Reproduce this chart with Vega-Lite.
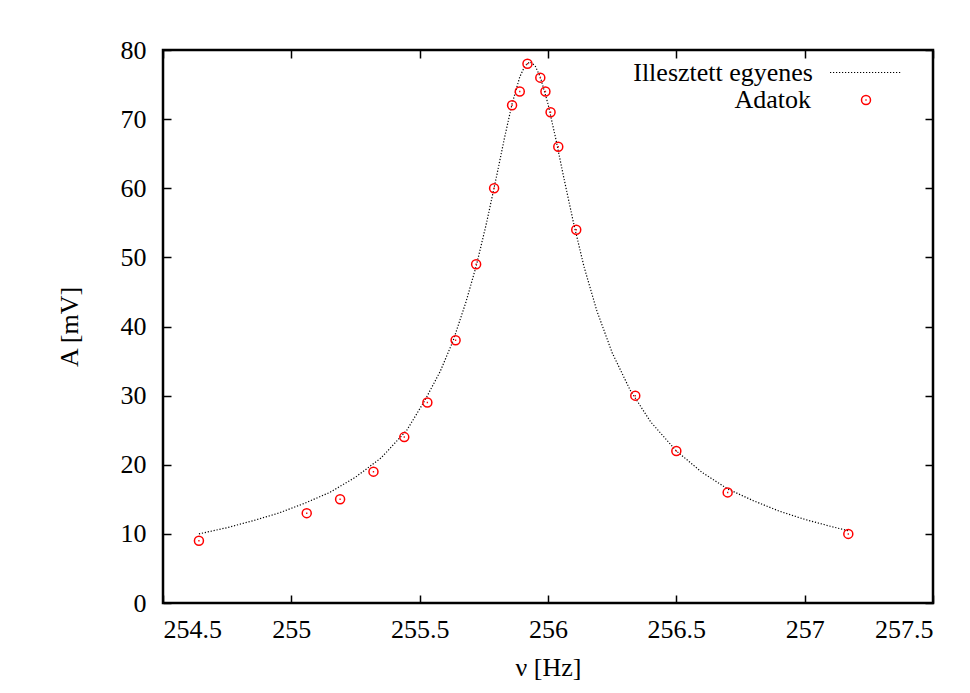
{
  "$schema": "https://vega.github.io/schema/vega-lite/v6.json",
  "width": 770,
  "height": 553,
  "autosize": "none",
  "padding": {"left": 163, "top": 50, "right": 37, "bottom": 90},
  "background": "white",
  "config": {
    "view": {"stroke": "black", "strokeWidth": 2.5},
    "font": "Times New Roman, Liberation Serif, DejaVu Serif, serif",
    "axis": {
      "domain": false,
      "grid": false,
      "ticks": true,
      "tickColor": "black",
      "tickWidth": 1.5,
      "tickSize": -8,
      "labelFont": "Times New Roman, Liberation Serif, DejaVu Serif, serif",
      "labelFontSize": 26,
      "labelColor": "black",
      "labelPadding": 25,
      "labelOverlap": false,
      "titleFont": "Times New Roman, Liberation Serif, DejaVu Serif, serif",
      "titleFontSize": 26,
      "titleFontWeight": "normal",
      "titleColor": "black"
    }
  },
  "datasets": {
    "fit": [
      {"f": 254.64, "A": 10.0, "s": "Illesztett egyenes"},
      {"f": 254.75, "A": 10.9, "s": "Illesztett egyenes"},
      {"f": 254.85, "A": 11.9, "s": "Illesztett egyenes"},
      {"f": 254.95, "A": 13.0, "s": "Illesztett egyenes"},
      {"f": 255.05, "A": 14.4, "s": "Illesztett egyenes"},
      {"f": 255.15, "A": 16.0, "s": "Illesztett egyenes"},
      {"f": 255.25, "A": 18.2, "s": "Illesztett egyenes"},
      {"f": 255.35, "A": 21.0, "s": "Illesztett egyenes"},
      {"f": 255.45, "A": 25.0, "s": "Illesztett egyenes"},
      {"f": 255.52, "A": 29.3, "s": "Illesztett egyenes"},
      {"f": 255.58, "A": 33.5, "s": "Illesztett egyenes"},
      {"f": 255.63, "A": 37.9, "s": "Illesztett egyenes"},
      {"f": 255.68, "A": 43.5, "s": "Illesztett egyenes"},
      {"f": 255.72, "A": 48.7, "s": "Illesztett egyenes"},
      {"f": 255.76, "A": 54.9, "s": "Illesztett egyenes"},
      {"f": 255.80, "A": 61.8, "s": "Illesztett egyenes"},
      {"f": 255.83, "A": 67.2, "s": "Illesztett egyenes"},
      {"f": 255.86, "A": 72.2, "s": "Illesztett egyenes"},
      {"f": 255.89, "A": 76.1, "s": "Illesztett egyenes"},
      {"f": 255.91, "A": 77.7, "s": "Illesztett egyenes"},
      {"f": 255.93, "A": 78.3, "s": "Illesztett egyenes"},
      {"f": 255.95, "A": 77.7, "s": "Illesztett egyenes"},
      {"f": 255.97, "A": 76.1, "s": "Illesztett egyenes"},
      {"f": 256.00, "A": 72.2, "s": "Illesztett egyenes"},
      {"f": 256.03, "A": 67.2, "s": "Illesztett egyenes"},
      {"f": 256.06, "A": 61.8, "s": "Illesztett egyenes"},
      {"f": 256.10, "A": 54.9, "s": "Illesztett egyenes"},
      {"f": 256.14, "A": 48.7, "s": "Illesztett egyenes"},
      {"f": 256.19, "A": 42.3, "s": "Illesztett egyenes"},
      {"f": 256.25, "A": 36.2, "s": "Illesztett egyenes"},
      {"f": 256.32, "A": 30.8, "s": "Illesztett egyenes"},
      {"f": 256.40, "A": 26.2, "s": "Illesztett egyenes"},
      {"f": 256.50, "A": 22.0, "s": "Illesztett egyenes"},
      {"f": 256.60, "A": 18.9, "s": "Illesztett egyenes"},
      {"f": 256.70, "A": 16.5, "s": "Illesztett egyenes"},
      {"f": 256.80, "A": 14.8, "s": "Illesztett egyenes"},
      {"f": 256.90, "A": 13.3, "s": "Illesztett egyenes"},
      {"f": 257.00, "A": 12.1, "s": "Illesztett egyenes"},
      {"f": 257.10, "A": 11.1, "s": "Illesztett egyenes"},
      {"f": 257.17, "A": 10.45, "s": "Illesztett egyenes"}
    ],
    "obs": [
      {"f": 254.64, "A": 9, "d": "Adatok"},
      {"f": 255.06, "A": 13, "d": "Adatok"},
      {"f": 255.19, "A": 15, "d": "Adatok"},
      {"f": 255.32, "A": 19, "d": "Adatok"},
      {"f": 255.44, "A": 24, "d": "Adatok"},
      {"f": 255.53, "A": 29, "d": "Adatok"},
      {"f": 255.64, "A": 38, "d": "Adatok"},
      {"f": 255.72, "A": 49, "d": "Adatok"},
      {"f": 255.79, "A": 60, "d": "Adatok"},
      {"f": 255.86, "A": 72, "d": "Adatok"},
      {"f": 255.89, "A": 74, "d": "Adatok"},
      {"f": 255.92, "A": 78, "d": "Adatok"},
      {"f": 255.97, "A": 76, "d": "Adatok"},
      {"f": 255.99, "A": 74, "d": "Adatok"},
      {"f": 256.01, "A": 71, "d": "Adatok"},
      {"f": 256.04, "A": 66, "d": "Adatok"},
      {"f": 256.11, "A": 54, "d": "Adatok"},
      {"f": 256.34, "A": 30, "d": "Adatok"},
      {"f": 256.50, "A": 22, "d": "Adatok"},
      {"f": 256.70, "A": 16, "d": "Adatok"},
      {"f": 257.17, "A": 10, "d": "Adatok"}
    ]
  },
  "layer": [
    {
      "data": {"name": "fit"},
      "mark": {"type": "line", "stroke": "black", "strokeWidth": 1.2},
      "encoding": {
        "x": {
          "field": "f", "type": "quantitative",
          "scale": {"domain": [254.5, 257.5], "nice": false, "zero": false},
          "axis": {"orient": "bottom", "values": [254.5, 255, 255.5, 256, 256.5, 257, 257.5], "format": "~g", "title": "ν [Hz]", "titlePadding": 12, "labelPadding": 21}
        },
        "y": {
          "field": "A", "type": "quantitative",
          "scale": {"domain": [0, 80], "nice": false, "zero": true},
          "axis": {"orient": "left", "values": [0, 10, 20, 30, 40, 50, 60, 70, 80], "title": "A [mV]", "titlePadding": 38}
        },
        "strokeDash": {
          "field": "s", "type": "nominal",
          "scale": {"range": [[1.2, 1.8]]},
          "legend": {
            "title": null, "orient": "none", "legendX": 666, "legendY": -14,
            "symbolType": "stroke", "symbolSize": 5041, "symbolStrokeWidth": 1.2, "symbolStrokeColor": "black",
            "labelAlign": "right", "labelOffset": -89, "labelFont": "Times New Roman, Liberation Serif, DejaVu Serif, serif", "labelFontSize": 26,
            "labelColor": "black", "labelLimit": 0, "padding": 0
          }
        }
      }
    },
    {
      "data": {"name": "obs"},
      "mark": {"type": "point", "shape": "M-1,0A1,1,0,1,1,1,0A1,1,0,1,1,-1,0ZM-0.15,0L0.15,0", "size": 81, "filled": false, "strokeWidth": 1.5, "opacity": 1},
      "encoding": {
        "x": {
          "field": "f", "type": "quantitative",
          "axis": {"orient": "top", "values": [254.5, 255, 255.5, 256, 256.5, 257, 257.5], "labels": false, "title": null}
        },
        "y": {
          "field": "A", "type": "quantitative",
          "axis": {"orient": "right", "values": [0, 10, 20, 30, 40, 50, 60, 70, 80], "labels": false, "title": null}
        },
        "color": {
          "field": "d", "type": "nominal",
          "scale": {"range": ["#ff0000"]},
          "legend": {
            "title": null, "orient": "none", "legendX": 690, "legendY": 37,
            "symbolType": "M-1,0A1,1,0,1,1,1,0A1,1,0,1,1,-1,0ZM-0.15,0L0.15,0", "symbolSize": 81, "symbolStrokeWidth": 1.5,
            "symbolFillColor": "transparent", "symbolOpacity": 1,
            "labelAlign": "right", "labelOffset": -68, "labelFont": "Times New Roman, Liberation Serif, DejaVu Serif, serif", "labelFontSize": 26,
            "labelColor": "black", "labelLimit": 0, "padding": 0
          }
        }
      }
    }
  ],
  "resolve": {"axis": {"x": "independent", "y": "independent"}}
}
